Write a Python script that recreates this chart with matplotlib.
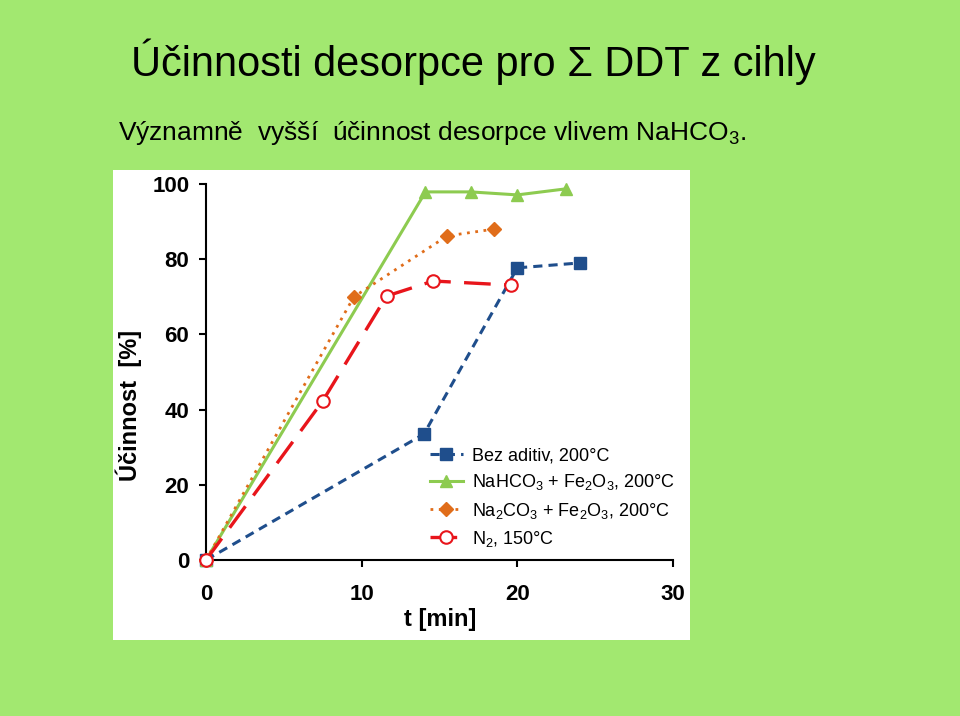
import matplotlib
matplotlib.use("Agg")
import matplotlib.pyplot as plt
from matplotlib.patches import Rectangle

# Data
t_bez = [0, 14, 20, 24]
y_bez = [0, 33.5, 77.7, 79.0]
t_nahco3 = [0, 14.1, 17.0, 20.0, 23.1]
y_nahco3 = [0, 97.9, 97.9, 97.1, 98.7]
t_na2co3 = [0, 9.5, 15.5, 18.5]
y_na2co3 = [0, 70.0, 86.2, 88.0]
t_n2 = [0, 7.5, 11.6, 14.6, 19.6]
y_n2 = [0, 42.3, 70.2, 74.2, 73.1]

labels = ["Bez aditiv, 200°C",
          "NaHCO$_3$ + Fe$_2$O$_3$, 200°C",
          "Na$_2$CO$_3$ + Fe$_2$O$_3$, 200°C",
          "N$_2$, 150°C"]
xticks = [0, 10, 20, 30]
yticks = [0, 20, 40, 60, 80, 100]

plt.rcParams['font.family'] = ['Liberation Sans', 'DejaVu Sans']
plt.rcParams['mathtext.fontset'] = 'custom'
plt.rcParams['mathtext.rm'] = 'Liberation Sans'

fig = plt.figure(figsize=(9.6, 7.16), dpi=100)
fig.patch.set_facecolor('#A2E870')

fig.patches.append(Rectangle((113/960, 1-640/716), (690-113)/960, 470/716,
                             transform=fig.transFigure, facecolor='white',
                             edgecolor='none', zorder=-5))

fig.text(131/960, 1-76/716, "Účinnosti desorpce pro Σ DDT z cihly", fontsize=29.9,
         ha='left', va='baseline')
fig.text(118/960, 1-140/716, "Významně  vyšší  účinnost desorpce vlivem NaHCO$_3$.", fontsize=19,
         ha='left', va='baseline')

ax = fig.add_axes([206/960, 1-560/716, (673-206)/960, (560-184)/716])
ax.set_facecolor('none')
ax.set_zorder(2)

ax.plot(t_bez, y_bez, color='#1F4E8C', lw=2.2, ls=(0, (3, 2)), marker='s', ms=8,
        label=labels[0], zorder=3)
ax.plot(t_nahco3, y_nahco3, color='#8DCB50', lw=2.2, ls='-', marker='^', ms=9,
        label=labels[1], zorder=3)
ax.plot(t_na2co3, y_na2co3, color='#E06D1A', lw=2.0, ls=(0, (1, 2)), marker='D', ms=7,
        label=labels[2], zorder=3)
ax.plot(t_n2, y_n2, color='#E8151B', lw=2.4, ls=(0, (8, 4)), marker='o', ms=9,
        mfc='white', mec='#E8151B', mew=1.5, label=labels[3], zorder=4)

ax.set_xlim(0, 30)
ax.set_ylim(0, 100)
ax.set_xticks(xticks)
ax.set_yticks(yticks)
for s in ['top', 'right']:
    ax.spines[s].set_visible(False)
for s in ['left', 'bottom']:
    ax.spines[s].set_linewidth(1.5)
ax.tick_params(direction='out', length=5, width=1.5, labelsize=16)
ax.tick_params(axis='y', pad=7)
ax.tick_params(axis='x', pad=12)
for lab in ax.get_xticklabels() + ax.get_yticklabels():
    lab.set_fontweight('bold')
ax.set_xlabel("t [min]", fontsize=17, fontweight='bold')
ax.set_ylabel("Účinnost  [%]", fontsize=17, fontweight='bold')
ax.xaxis.set_label_coords(0.501, -0.128)
ax.yaxis.set_label_coords(-0.137, 0.412)
for line in ax.lines:
    line.set_clip_on(False)

leg = ax.legend(loc='lower left', bbox_to_anchor=(0.445, -0.013), frameon=False,
                prop={'size': 13}, handlelength=1.8,
                labelspacing=0.45, handletextpad=0.5)

fig.savefig('out.png', dpi=100, facecolor=fig.get_facecolor())
